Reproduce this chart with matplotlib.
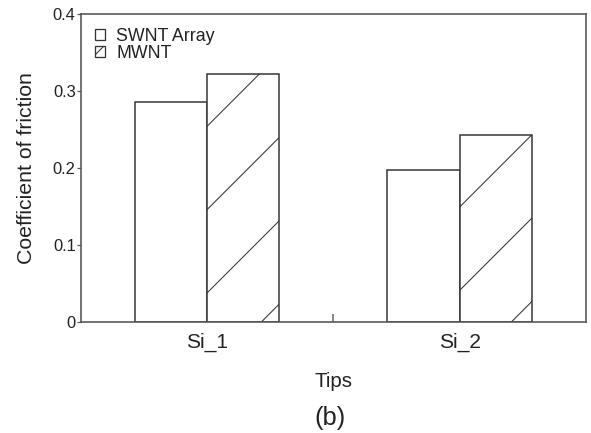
import matplotlib
matplotlib.use("Agg")
import matplotlib.pyplot as plt
import numpy as np

# ---- data ----
categories = ["Si_1", "Si_2"]
swnt_array = [0.286, 0.198]
mwnt = [0.322, 0.2425]
series_labels = ["SWNT Array", "MWNT"]
yticks = [0, 0.1, 0.2, 0.3, 0.4]
ytick_labels = ["0", "0.1", "0.2", "0.3", "0.4"]

DPI = 250
plt.rcParams['font.family'] = ['Liberation Sans', 'DejaVu Sans']
plt.rcParams['hatch.linewidth'] = 0.3
plt.rcParams['hatch.color'] = '#222222'

def px(v):
    return v * 72.0 / DPI

fig = plt.figure(figsize=(591 / DPI, 433 / DPI), dpi=DPI)
ax = fig.add_axes([80.7 / 591, (433 - 322) / 433, (586 - 80.7) / 591, (322 - 14) / 433])

x = np.arange(1, len(categories) + 1)
w = 0.286
edge = '#333333'
ax.bar(x - w / 2, swnt_array, w, facecolor='white', edgecolor=edge,
       linewidth=px(1.5), label=series_labels[0])
ax.bar(x + w / 2, mwnt, w, facecolor='white', edgecolor=edge,
       linewidth=px(1.5), hatch='/', label=series_labels[1])

ax.set_xlim(0.5, 2.5)
ax.set_ylim(0, 0.4)

for s in ax.spines.values():
    s.set_color('#555555')
    s.set_linewidth(px(1.6))

ax.set_yticks(yticks)
ax.set_yticklabels(ytick_labels)
ax.tick_params(axis='y', direction='out', length=px(4), width=px(1.2),
               color='#555555', labelsize=px(16.5), pad=px(1), labelcolor='#222222')
ax.set_xticks(x)
ax.set_xticklabels(categories)
ax.tick_params(axis='x', which='major', length=0, labelsize=px(21),
               pad=px(11), labelcolor='#222222')
ax.set_xticks([1.5], minor=True)
ax.tick_params(axis='x', which='minor', direction='in', length=px(8),
               width=px(2), color='#888888')

ax.set_ylabel("Coefficient of friction", fontsize=px(21.3), color='#222222',
              labelpad=px(17))
ax.set_xlabel("Tips", fontsize=px(20.5), color='#222222', labelpad=px(20))
fig.text(330 / 591, 1 - 418 / 433, "(b)", fontsize=px(25.5), color='#222222',
         ha='center', va='center')

leg = ax.legend(loc='upper left', bbox_to_anchor=(0.028, 0.955), frameon=False,
                fontsize=px(17.7), handlelength=0.6, handleheight=0.6,
                handletextpad=0.62, labelspacing=-0.02, borderpad=0, borderaxespad=0)
for t in leg.get_texts():
    t.set_color('#222222')
for h in leg.legend_handles:
    h.set_linewidth(px(1.3))
leg.legend_handles[1].set_hatch('/////')

fig.savefig("out.png", dpi=DPI)
